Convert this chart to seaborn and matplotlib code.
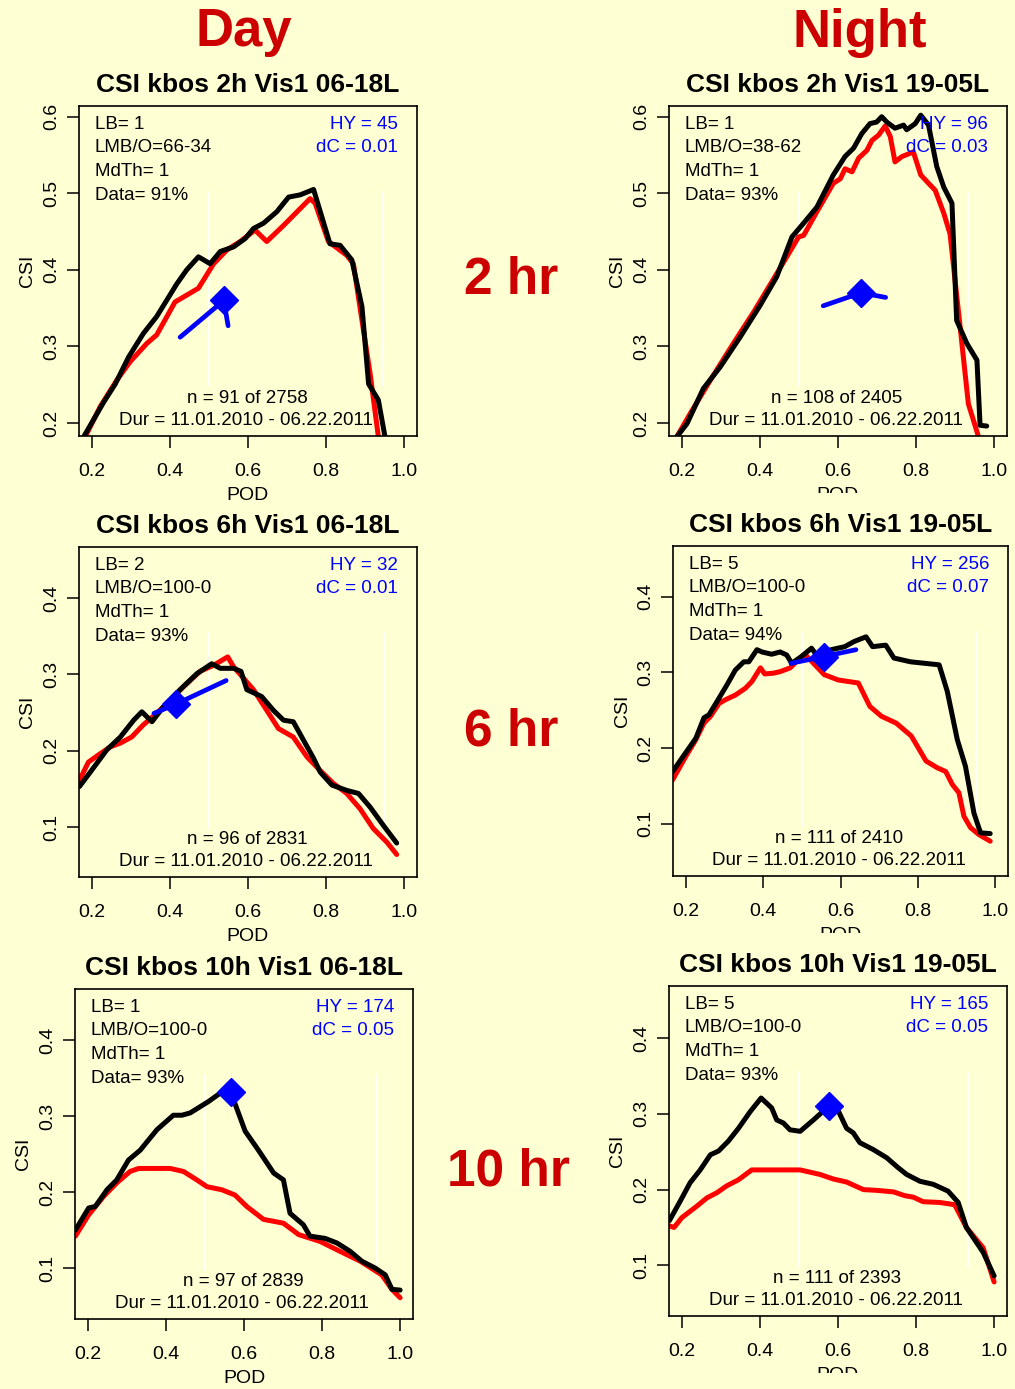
import numpy as np
import pandas as pd
import seaborn as sns
import matplotlib.pyplot as plt
from matplotlib.patches import Rectangle

sns.set_theme(style="ticks")
plt.rcParams["font.family"] = ["Liberation Sans", "DejaVu Sans"]
plt.rcParams["text.color"] = "black"
plt.rcParams["axes.labelcolor"] = "black"
plt.rcParams["xtick.color"] = "black"
plt.rcParams["ytick.color"] = "black"

BG = "#FFFFD4"
DARKRED = "#CC0000"
W, H = 1015, 1389

# ---- data (POD, CSI) ----
# 2 hr, day
d2_blk_pod = [0.179, 0.230, 0.260, 0.294, 0.332, 0.366, 0.418, 0.443, 0.473, 0.503, 0.529, 0.563, 0.593,
              0.614, 0.640, 0.674, 0.704, 0.734, 0.768, 0.810, 0.836, 0.866, 0.892, 0.909, 0.934, 0.951]
d2_blk_csi = [0.182, 0.227, 0.251, 0.286, 0.317, 0.339, 0.382, 0.400, 0.417, 0.408, 0.424, 0.430, 0.441,
              0.454, 0.461, 0.476, 0.495, 0.498, 0.505, 0.434, 0.432, 0.413, 0.352, 0.251, 0.230, 0.182]
d2_red_pod = [0.183, 0.221, 0.264, 0.298, 0.341, 0.366, 0.413, 0.443, 0.473, 0.512, 0.546, 0.580, 0.618,
              0.648, 0.691, 0.759, 0.772, 0.806, 0.853, 0.870, 0.892, 0.913, 0.934]
d2_red_csi = [0.182, 0.221, 0.256, 0.280, 0.304, 0.315, 0.358, 0.367, 0.376, 0.408, 0.426, 0.437, 0.452,
              0.437, 0.458, 0.493, 0.487, 0.437, 0.419, 0.408, 0.334, 0.264, 0.182]
d2_blue_pod = [0.426, 0.538, 0.549]
d2_blue_csi = [0.312, 0.360, 0.327]

# 2 hr, night
n2_blk_pod = [0.187, 0.213, 0.255, 0.298, 0.349, 0.401, 0.443, 0.482, 0.512, 0.546, 0.588, 0.618, 0.640,
              0.661, 0.682, 0.699, 0.712, 0.725, 0.746, 0.768, 0.776, 0.798, 0.812, 0.832, 0.853, 0.871,
              0.892, 0.904, 0.930, 0.956, 0.964, 0.981]
n2_blk_csi = [0.182, 0.199, 0.245, 0.273, 0.312, 0.354, 0.391, 0.443, 0.461, 0.482, 0.524, 0.548, 0.559,
              0.578, 0.591, 0.593, 0.600, 0.593, 0.585, 0.589, 0.583, 0.591, 0.602, 0.589, 0.535, 0.508,
              0.487, 0.334, 0.304, 0.282, 0.197, 0.196]
n2_red_pod = [0.187, 0.221, 0.273, 0.332, 0.384, 0.443, 0.499, 0.512, 0.546, 0.588, 0.606, 0.618, 0.636,
              0.653, 0.674, 0.687, 0.704, 0.721, 0.734, 0.746, 0.764, 0.793, 0.812, 0.832, 0.849, 0.871,
              0.887, 0.913, 0.934, 0.960]
n2_red_csi = [0.182, 0.212, 0.256, 0.304, 0.345, 0.395, 0.443, 0.445, 0.476, 0.513, 0.519, 0.532, 0.528,
              0.546, 0.556, 0.569, 0.576, 0.588, 0.574, 0.541, 0.548, 0.554, 0.524, 0.513, 0.504, 0.474,
              0.447, 0.325, 0.225, 0.182]
n2_blue_pod = [0.562, 0.659, 0.722]
n2_blue_csi = [0.353, 0.370, 0.364]

# 6 hr, day
d6_blk_pod = [0.168, 0.196, 0.238, 0.273, 0.307, 0.328, 0.354, 0.384, 0.426, 0.469, 0.507, 0.529, 0.563,
              0.582, 0.597, 0.635, 0.665, 0.691, 0.716, 0.742, 0.768, 0.785, 0.815, 0.853, 0.883, 0.913,
              0.947, 0.981]
d6_blk_csi = [0.153, 0.172, 0.201, 0.218, 0.240, 0.251, 0.238, 0.258, 0.280, 0.301, 0.314, 0.308, 0.308,
              0.304, 0.280, 0.271, 0.253, 0.240, 0.238, 0.214, 0.190, 0.172, 0.155, 0.148, 0.144, 0.126,
              0.102, 0.079]
d6_red_pod = [0.168, 0.191, 0.221, 0.247, 0.273, 0.302, 0.332, 0.366, 0.392, 0.435, 0.477, 0.512, 0.548,
              0.563, 0.614, 0.648, 0.678, 0.716, 0.751, 0.785, 0.819, 0.853, 0.887, 0.921, 0.956, 0.981]
d6_red_csi = [0.161, 0.185, 0.196, 0.205, 0.210, 0.218, 0.234, 0.249, 0.262, 0.284, 0.304, 0.312, 0.323,
              0.310, 0.280, 0.253, 0.229, 0.218, 0.192, 0.174, 0.157, 0.144, 0.124, 0.098, 0.080, 0.064]
d6_blue_pod = [0.359, 0.415, 0.544]
d6_blue_csi = [0.249, 0.261, 0.292]

# 6 hr, night
n6_blk_pod = [0.166, 0.200, 0.226, 0.247, 0.260, 0.286, 0.307, 0.328, 0.350, 0.363, 0.384, 0.397, 0.422,
              0.444, 0.461, 0.474, 0.499, 0.525, 0.538, 0.576, 0.611, 0.636, 0.666, 0.683, 0.717, 0.738,
              0.781, 0.855, 0.876, 0.902, 0.923, 0.945, 0.962, 0.987]
n6_blk_csi = [0.169, 0.194, 0.213, 0.240, 0.244, 0.266, 0.284, 0.303, 0.314, 0.314, 0.330, 0.327, 0.324,
              0.327, 0.323, 0.312, 0.321, 0.332, 0.323, 0.330, 0.334, 0.341, 0.347, 0.334, 0.336, 0.319,
              0.314, 0.310, 0.275, 0.211, 0.176, 0.114, 0.088, 0.087]
n6_red_pod = [0.166, 0.200, 0.226, 0.247, 0.264, 0.286, 0.303, 0.328, 0.354, 0.371, 0.393, 0.404, 0.427,
              0.444, 0.470, 0.491, 0.508, 0.534, 0.558, 0.594, 0.646, 0.676, 0.706, 0.744, 0.783, 0.821,
              0.850, 0.872, 0.889, 0.906, 0.919, 0.936, 0.957, 0.987]
n6_red_csi = [0.158, 0.189, 0.211, 0.233, 0.242, 0.259, 0.264, 0.270, 0.279, 0.288, 0.306, 0.298, 0.299,
              0.301, 0.306, 0.317, 0.324, 0.310, 0.297, 0.290, 0.286, 0.255, 0.242, 0.233, 0.216, 0.183,
              0.174, 0.169, 0.152, 0.141, 0.110, 0.095, 0.086, 0.077]
n6_blue_pod = [0.472, 0.557, 0.640]
n6_blue_csi = [0.312, 0.321, 0.330]

# 10 hr, day
d10_blk_pod = [0.168, 0.202, 0.219, 0.249, 0.274, 0.304, 0.334, 0.377, 0.419, 0.441, 0.462, 0.509, 0.539,
               0.567, 0.603, 0.637, 0.676, 0.701, 0.718, 0.752, 0.769, 0.808, 0.838, 0.872, 0.902, 0.936,
               0.962, 0.979, 1.000]
d10_blk_csi = [0.150, 0.179, 0.181, 0.203, 0.216, 0.242, 0.255, 0.282, 0.301, 0.301, 0.304, 0.319, 0.330,
               0.330, 0.280, 0.255, 0.225, 0.216, 0.172, 0.157, 0.142, 0.139, 0.133, 0.122, 0.109, 0.100,
               0.091, 0.072, 0.071]
d10_red_pod = [0.168, 0.202, 0.240, 0.274, 0.308, 0.330, 0.372, 0.411, 0.445, 0.479, 0.505, 0.543, 0.577,
               0.607, 0.650, 0.701, 0.740, 0.795, 0.846, 0.898, 0.953, 0.979, 1.000]
d10_red_csi = [0.142, 0.170, 0.194, 0.212, 0.227, 0.231, 0.231, 0.231, 0.227, 0.216, 0.207, 0.203, 0.196,
               0.181, 0.164, 0.159, 0.144, 0.135, 0.122, 0.109, 0.091, 0.072, 0.061]
d10_blue_pod = [0.567]
d10_blue_csi = [0.331]

# 10 hr, night
n10_blk_pod = [0.168, 0.196, 0.221, 0.247, 0.273, 0.294, 0.319, 0.345, 0.375, 0.403, 0.430, 0.443, 0.460,
               0.477, 0.503, 0.537, 0.578, 0.597, 0.622, 0.639, 0.656, 0.690, 0.725, 0.754, 0.776, 0.810,
               0.844, 0.882, 0.908, 0.929, 0.972, 1.000]
n10_blk_csi = [0.159, 0.185, 0.209, 0.226, 0.246, 0.251, 0.264, 0.281, 0.303, 0.321, 0.308, 0.292, 0.288,
               0.279, 0.277, 0.292, 0.311, 0.308, 0.281, 0.275, 0.262, 0.253, 0.242, 0.229, 0.220, 0.211,
               0.207, 0.198, 0.183, 0.150, 0.117, 0.086]
n10_red_pod = [0.168, 0.180, 0.200, 0.238, 0.264, 0.290, 0.315, 0.345, 0.379, 0.417, 0.503, 0.554, 0.588,
               0.622, 0.665, 0.699, 0.742, 0.771, 0.793, 0.818, 0.861, 0.899, 0.929, 0.972, 1.000]
n10_red_csi = [0.152, 0.150, 0.163, 0.178, 0.189, 0.196, 0.205, 0.213, 0.226, 0.226, 0.226, 0.220, 0.214,
               0.210, 0.200, 0.199, 0.197, 0.192, 0.190, 0.184, 0.183, 0.180, 0.150, 0.123, 0.078]
n10_blue_pod = [0.578]
n10_blue_csi = [0.311]

xticks = [0.2, 0.4, 0.6, 0.8, 1.0]
yticks_2h = [0.2, 0.3, 0.4, 0.5, 0.6]
yticks_long = [0.1, 0.2, 0.3, 0.4]

panels = [
    dict(box=(79, 106, 417, 436), ylim=(0.183, 0.614), yticks=yticks_2h,
         title="CSI kbos 2h Vis1 06-18L", lb="1", lmbo="66-34", data="91%", hy="45", dc="0.01",
         n="n = 91 of 2758", vl=0.943, cut=None,
         blk=(d2_blk_pod, d2_blk_csi), red=(d2_red_pod, d2_red_csi), blue=(d2_blue_pod, d2_blue_csi)),
    dict(box=(669, 106, 1007, 436), ylim=(0.183, 0.614), yticks=yticks_2h,
         title="CSI kbos 2h Vis1 19-05L", lb="1", lmbo="38-62", data="93%", hy="96", dc="0.03",
         n="n = 108 of 2405", vl=0.934, cut=(493, 508),
         blk=(n2_blk_pod, n2_blk_csi), red=(n2_red_pod, n2_red_csi), blue=(n2_blue_pod, n2_blue_csi)),
    dict(box=(79, 547, 417, 877), ylim=(0.0345, 0.467), yticks=yticks_long,
         title="CSI kbos 6h Vis1 06-18L", lb="2", lmbo="100-0", data="93%", hy="32", dc="0.01",
         n="n = 96 of 2831", vl=0.949, cut=None,
         blk=(d6_blk_pod, d6_blk_csi), red=(d6_red_pod, d6_red_csi), blue=(d6_blue_pod, d6_blue_csi)),
    dict(box=(673, 546, 1008, 876), ylim=(0.031, 0.467), yticks=yticks_long,
         title="CSI kbos 6h Vis1 19-05L", lb="5", lmbo="100-0", data="94%", hy="256", dc="0.07",
         n="n = 111 of 2410", vl=0.949, cut=(933, 950),
         blk=(n6_blk_pod, n6_blk_csi), red=(n6_red_pod, n6_red_csi), blue=(n6_blue_pod, n6_blue_csi)),
    dict(box=(75, 989, 413, 1319), ylim=(0.033, 0.467), yticks=yticks_long,
         title="CSI kbos 10h Vis1 06-18L", lb="1", lmbo="100-0", data="93%", hy="174", dc="0.05",
         n="n = 97 of 2839", vl=0.940, cut=None,
         blk=(d10_blk_pod, d10_blk_csi), red=(d10_red_pod, d10_red_csi), blue=(d10_blue_pod, d10_blue_csi)),
    dict(box=(669, 986, 1007, 1316), ylim=(0.033, 0.469), yticks=yticks_long,
         title="CSI kbos 10h Vis1 19-05L", lb="5", lmbo="100-0", data="93%", hy="165", dc="0.05",
         n="n = 111 of 2393", vl=0.934, cut=(1373, 1389),
         blk=(n10_blk_pod, n10_blk_csi), red=(n10_red_pod, n10_red_csi), blue=(n10_blue_pod, n10_blue_csi)),
]

fig = plt.figure(figsize=(W / 100, H / 100), dpi=100, facecolor=BG)

for p in panels:
    x0, y0, x1, y1 = p["box"]
    ax = fig.add_axes([x0 / W, 1 - y1 / H, (x1 - x0) / W, (y1 - y0) / H])
    ax.set_facecolor(BG)
    ax.set_xlim(0.167, 1.033)
    ax.set_ylim(*p["ylim"])

    # white guide lines
    for xv in [0.5, p["vl"]]:
        ax.axvline(xv, ymin=0.15, ymax=0.74, color="white", lw=1.2, zorder=1)

    red = pd.DataFrame({"POD": p["red"][0], "CSI": p["red"][1]})
    blk = pd.DataFrame({"POD": p["blk"][0], "CSI": p["blk"][1]})
    sns.lineplot(data=red, x="POD", y="CSI", sort=False, estimator=None, color="#FF0000", lw=3.6, ax=ax, zorder=2)
    sns.lineplot(data=blk, x="POD", y="CSI", sort=False, estimator=None, color="black", lw=3.6, ax=ax, zorder=3)
    bx, by = p["blue"]
    if len(bx) > 1:
        ax.plot(bx, by, color="#0000FF", lw=3.4, zorder=4, solid_capstyle="round")
        ax.plot(bx[1], by[1], marker="D", ms=14, color="#0000FF", zorder=5)
    else:
        ax.plot(bx[0], by[0], marker="D", ms=14, color="#0000FF", zorder=5)

    ax.set_xticks(xticks)
    ax.set_xticklabels([f"{v:.1f}" for v in xticks])
    ax.set_yticks(p["yticks"])
    ax.set_yticklabels([f"{v:.1f}" for v in p["yticks"]], rotation=90, va="center")
    ax.tick_params(axis="both", direction="out", length=8.5, width=1.1, labelsize=14,
                   colors="black", labelcolor="black")
    ax.tick_params(axis="x", pad=11)
    ax.tick_params(axis="y", pad=5)
    for s in ax.spines.values():
        s.set_visible(True)
        s.set_linewidth(1.2)
        s.set_color("black")
    ax.set_xlabel("")
    ax.set_ylabel("")
    ax.text(0.5, -0.179, "POD", transform=ax.transAxes, ha="center", va="center", fontsize=14, color="black")
    ax.text(-0.152, 0.5, "CSI", transform=ax.transAxes, ha="center", va="center", rotation=90,
            fontsize=14, color="black")
    ax.set_title(p["title"], fontsize=19, fontweight="bold", pad=10, color="black")

    tx = 0.047
    ys = [0.945, 0.873, 0.801, 0.729]
    left_lines = [f"LB= {p['lb']}", f"LMB/O={p['lmbo']}", "MdTh= 1", f"Data= {p['data']}"]
    for yy, t in zip(ys, left_lines):
        ax.text(tx, yy, t, transform=ax.transAxes, ha="left", va="center", fontsize=13.5, color="black")
    ax.text(0.944, ys[0], f"HY = {p['hy']}", transform=ax.transAxes, ha="right", va="center",
            fontsize=13.5, color="#0000FF")
    ax.text(0.944, ys[1], f"dC = {p['dc']}", transform=ax.transAxes, ha="right", va="center",
            fontsize=13.5, color="#0000FF")
    ax.text(0.497, 0.115, p["n"], transform=ax.transAxes, ha="center", va="center", fontsize=13.5,
            color="black")
    ax.text(0.494, 0.048, "Dur = 11.01.2010 - 06.22.2011", transform=ax.transAxes, ha="center",
            va="center", fontsize=13.5, color="black")

    if p["cut"] is not None:
        c0, c1 = p["cut"]
        fig.add_artist(Rectangle((620 / W, 1 - c1 / H), (W - 620) / W, (c1 - c0) / H,
                                 transform=fig.transFigure, facecolor=BG, edgecolor="none", zorder=10))

# headings
fig.text(244 / W, 1 - 32 / H, "Day", ha="center", va="center", fontsize=38, fontweight="bold", color=DARKRED)
fig.text(860 / W, 1 - 33 / H, "Night", ha="center", va="center", fontsize=38, fontweight="bold", color=DARKRED)
fig.text(511 / W, 1 - 280 / H, "2 hr", ha="center", va="center", fontsize=37, fontweight="bold", color=DARKRED)
fig.text(511 / W, 1 - 732 / H, "6 hr", ha="center", va="center", fontsize=37, fontweight="bold", color=DARKRED)
fig.text(508 / W, 1 - 1172 / H, "10 hr", ha="center", va="center", fontsize=37, fontweight="bold", color=DARKRED)

plt.savefig("out.png", dpi=100, facecolor=BG)
